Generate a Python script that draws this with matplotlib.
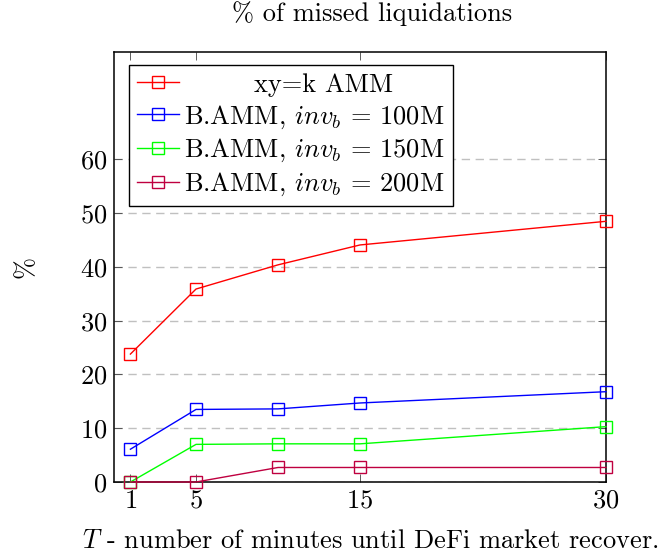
import matplotlib
matplotlib.use('Agg')
import matplotlib.pyplot as plt

# minutes until market recovers
minutes = [1, 5, 10, 15, 30]

# % of missed liquidations
xyk_amm = [23.8, 35.9, 40.4, 44.1, 48.5]
bamm_100m = [6.1, 13.5, 13.6, 14.7, 16.8]
bamm_150m = [0.0, 7.0, 7.1, 7.1, 10.3]
bamm_200m = [0.0, 0.0, 2.7, 2.7, 2.7]

labels = ['        xy=k AMM',
          r'B.AMM, $inv_b$ = 100M',
          r'B.AMM, $inv_b$ = 150M',
          r'B.AMM, $inv_b$ = 200M']
colors = ['#ff0000', '#0000ff', '#00ff00', '#bf0040']

x_ticks = [1, 5, 15, 30]
y_ticks = [0, 10, 20, 30, 40, 50, 60]

plt.rcParams['font.family'] = ['cmr10', 'DejaVu Serif']
plt.rcParams['mathtext.fontset'] = 'cm'
plt.rcParams['axes.formatter.use_mathtext'] = True
plt.rcParams['font.size'] = 19

fig = plt.figure(figsize=(6.61, 5.56), dpi=100)
ax = fig.add_axes([0.1725, 0.1331, 0.9168 - 0.1725, 0.9065 - 0.1331])

series = [xyk_amm, bamm_100m, bamm_150m, bamm_200m]
for vals, lab, col in zip(series, labels, colors):
    ax.plot(minutes, vals, color=col, lw=1.0, marker='s', markersize=8,
            markerfacecolor='none', markeredgecolor=col, markeredgewidth=1.0,
            label=lab, clip_on=False, zorder=3)

ax.set_xlim(0, 30)
ax.set_ylim(0, 80)
ax.set_xticks(x_ticks)
ax.set_yticks(y_ticks)
ax.tick_params(direction='in', top=True, right=True, length=6, width=0.6,
               color='#444444', pad=5)
ax.yaxis.grid(True, linestyle=(0, (6, 4)), color='#c0c0c0', lw=1.0)
ax.set_axisbelow(True)
for s in ax.spines.values():
    s.set_linewidth(1.1)

ax.set_title('% of missed liquidations', fontsize=19, pad=22, x=0.524)
ax.set_xlabel(r'$T$ - number of minutes until DeFi market recover.', labelpad=12, x=0.52)
ax.set_ylabel('%', labelpad=30)

leg = ax.legend(loc='upper left', bbox_to_anchor=(0.03, 0.97), fancybox=False,
                edgecolor='black', framealpha=1, handlelength=1.6,
                handletextpad=0.2, labelspacing=0.25, borderpad=0.3,
                borderaxespad=0)
leg.get_frame().set_linewidth(1.0)

fig.savefig('out.png', dpi=100)
